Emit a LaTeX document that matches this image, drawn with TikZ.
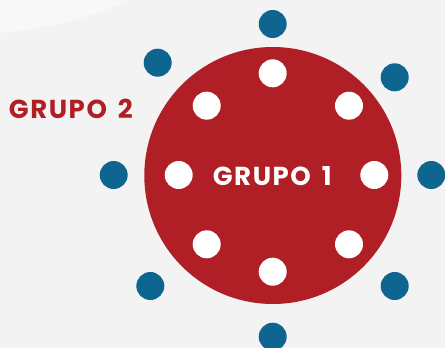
\documentclass[tikz,border=0pt]{standalone}
\usepackage{fontspec}
\setmainfont{Poppins}
\newfontfamily\grpfont{Poppins}[LetterSpace=6]
\definecolor{bg}{HTML}{F3F3F3}
\definecolor{bglight}{HTML}{F8F8F8}
\definecolor{grpred}{HTML}{B01F25}
\definecolor{grpblue}{HTML}{0D6590}
\tikzset{
  inner/.style={circle, fill=white, minimum size=28pt, inner sep=0pt},
  outer/.style={circle, fill=grpblue, minimum size=28pt, inner sep=0pt},
  lbl/.style={font=\grpfont\bfseries\fontsize{26}{26}\selectfont, anchor=base, inner sep=0pt}
}
\begin{document}
\begin{tikzpicture}[x=1pt,y=-1pt]
\useasboundingbox (0,0) rectangle (445,348);
\clip (0,0) rectangle (445,348);
\fill[bg] (0,0) rectangle (445,348);
\fill[bglight] (-40,-400) circle (435);
\node[circle, fill=grpred, minimum size=257pt, inner sep=0pt] (big) at (272.8,175.5) {};
% inner white dots
\node[inner] (w1) at (272.7,73.3) {};
\node[inner] (w2) at (349,105.7) {};
\node[inner] (w3) at (374.3,175) {};
\node[inner] (w4) at (349,244.3) {};
\node[inner] (w5) at (272.7,271.7) {};
\node[inner] (w6) at (206.7,244.3) {};
\node[inner] (w7) at (178.7,175) {};
\node[inner] (w8) at (206.7,105.7) {};
% outer blue dots
\node[outer] (b1) at (272.7,24) {};
\node[outer] (b2) at (394.7,77.3) {};
\node[outer] (b3) at (431.3,175) {};
\node[outer] (b4) at (394.7,286) {};
\node[outer] (b5) at (272.7,336.7) {};
\node[outer] (b6) at (150.3,286) {};
\node[outer] (b7) at (113.7,175) {};
\node[outer] (b8) at (157.7,62.7) {};
% labels
\node[lbl, text=white] (g1) at (272.3,185) {GRUPO\hspace{4pt} 1};
\node[lbl, text=grpred] (g2) at (70.9,118.7) {GRUPO\hspace{4pt} 2};
\end{tikzpicture}
\end{document}
